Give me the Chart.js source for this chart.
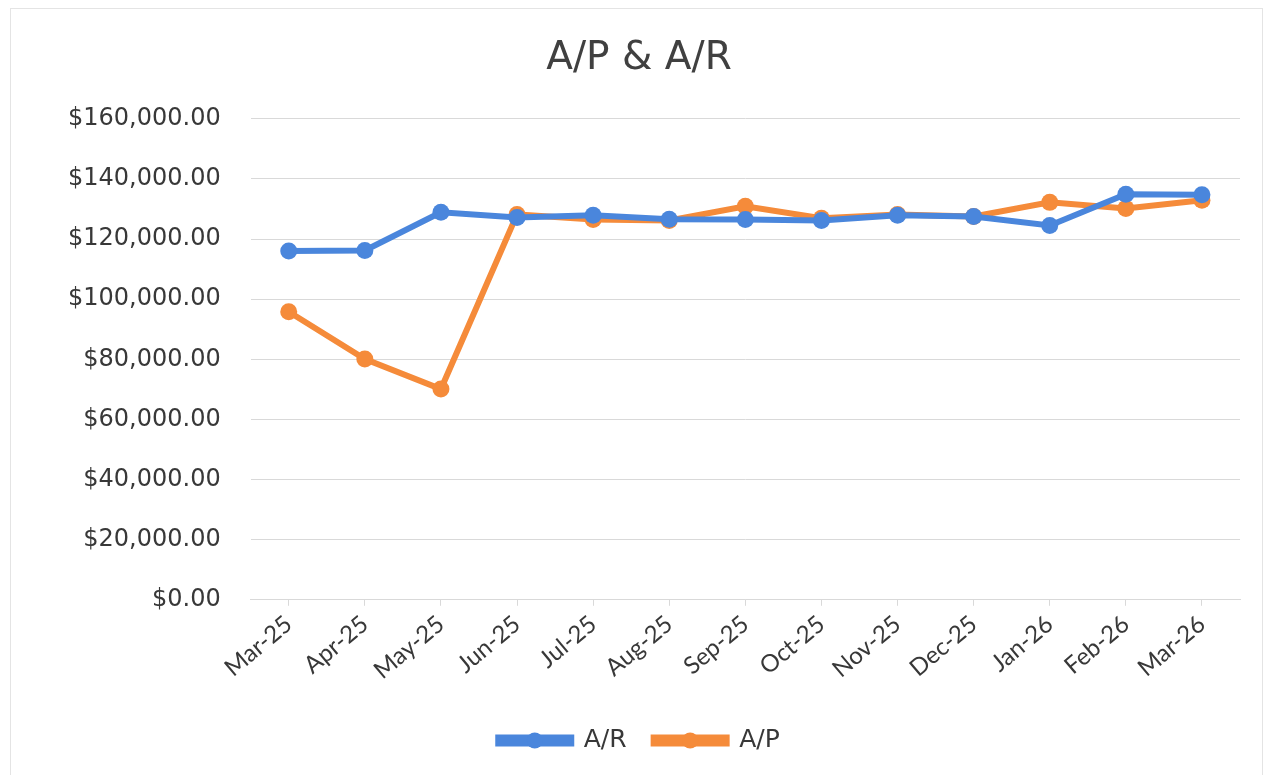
<!DOCTYPE html>
<html>
<head>
<meta charset="utf-8">
<script src="https://cdn.jsdelivr.net/npm/chart.js@4.4.1/dist/chart.umd.min.js"></script>
<style>
  html, body { margin: 0; padding: 0; background: #fff; }
  #wrap { width: 1267px; height: 775px; position: relative; }
  #frame { position: absolute; left: 10px; top: 8px; right: 4px; bottom: 0; border: 1px solid #e4e4e4; border-bottom: none; }
</style>
</head>
<body>
<div id="wrap">
  <div id="frame"></div>
  <canvas id="apArChart" width="1267" height="775"></canvas>
</div>
<script>
'use strict';

var months = ['Mar-25', 'Apr-25', 'May-25', 'Jun-25', 'Jul-25', 'Aug-25', 'Sep-25',
              'Oct-25', 'Nov-25', 'Dec-25', 'Jan-26', 'Feb-26', 'Mar-26'];
var arValues = [116000, 116200, 128900, 127200, 127900, 126600, 126500,
                126200, 127900, 127500, 124500, 134900, 134700];
var apValues = [95800, 80100, 70100, 128200, 126500, 126200, 130900,
                126900, 128200, 127500, 132200, 130200, 132900];

var blue = '#4a86dc';
var orange = '#f58b3a';
var textColor = '#383838';
var wideFont = '"DejaVu Sans", sans-serif';
var narrowFont = 'Lato, "Open Sans", sans-serif';

// draw the round marker on top of each legend line, Excel style
var legendMarkers = {
    id: 'legendMarkers',
    afterDraw: function (chart) {
        var legend = chart.legend;
        if (!legend || !legend.legendHitBoxes) return;
        var ctx = chart.ctx;
        legend.legendHitBoxes.forEach(function (box, i) {
            var ds = chart.data.datasets[i];
            var cx = box.left + legend.options.labels.boxWidth / 2;
            var cy = box.top + box.height / 2;
            ctx.save();
            ctx.fillStyle = ds.borderColor;
            ctx.beginPath();
            ctx.arc(cx, cy, 8, 0, Math.PI * 2);
            ctx.fill();
            ctx.restore();
        });
    }
};

var chartCanvas = document.getElementById('apArChart');
var apArChart = new Chart(chartCanvas, {
    type: 'line',
    data: {
        labels: months,
        datasets: [
            {
                label: 'A/R',
                data: arValues,
                borderColor: blue,
                backgroundColor: blue,
                borderWidth: 6,
                pointRadius: 8.5,
                pointBackgroundColor: blue,
                pointBorderWidth: 0,
                tension: 0
            },
            {
                label: 'A/P',
                data: apValues,
                borderColor: orange,
                backgroundColor: orange,
                borderWidth: 6,
                pointRadius: 8.5,
                pointBackgroundColor: orange,
                pointBorderWidth: 0,
                tension: 0
            }
        ]
    },
    options: {
        responsive: false,
        animation: false,
        layout: {
            padding: { left: 38, right: 27, top: 35, bottom: 12 }
        },
        plugins: {
            title: {
                display: true,
                text: 'A/P & A/R',
                color: '#404040',
                font: { family: wideFont, size: 39, weight: 'normal' },
                padding: { top: 0, bottom: 37 }
            },
            legend: {
                position: 'bottom',
                labels: {
                    boxWidth: 73,
                    boxHeight: 6,
                    color: textColor,
                    font: { family: wideFont, size: 25 },
                    padding: 27
                }
            },
            tooltip: { enabled: false }
        },
        scales: {
            x: {
                offset: true,
                grid: {
                    display: true,
                    drawOnChartArea: false,
                    drawTicks: true,
                    tickLength: 6,
                    color: '#d9d9d9'
                },
                border: { display: true, color: '#d9d9d9' },
                ticks: {
                    color: textColor,
                    font: { family: narrowFont, size: 24 },
                    minRotation: 40,
                    maxRotation: 40,
                    padding: 4
                },
                afterFit: function (scale) {
                    // Excel leaves a gap between the date labels and the legend
                    scale.height += 12;
                }
            },
            y: {
                min: 0,
                max: 160000,
                grid: { color: '#d9d9d9', drawTicks: false },
                border: { display: false },
                ticks: {
                    stepSize: 20000,
                    color: textColor,
                    padding: 30,
                    font: { family: wideFont, size: 24 },
                    callback: function (value) {
                        return '$' + value.toLocaleString('en-US', { minimumFractionDigits: 2, maximumFractionDigits: 2 });
                    }
                }
            }
        }
    },
    plugins: [legendMarkers]
});
</script>
</body>
</html>
